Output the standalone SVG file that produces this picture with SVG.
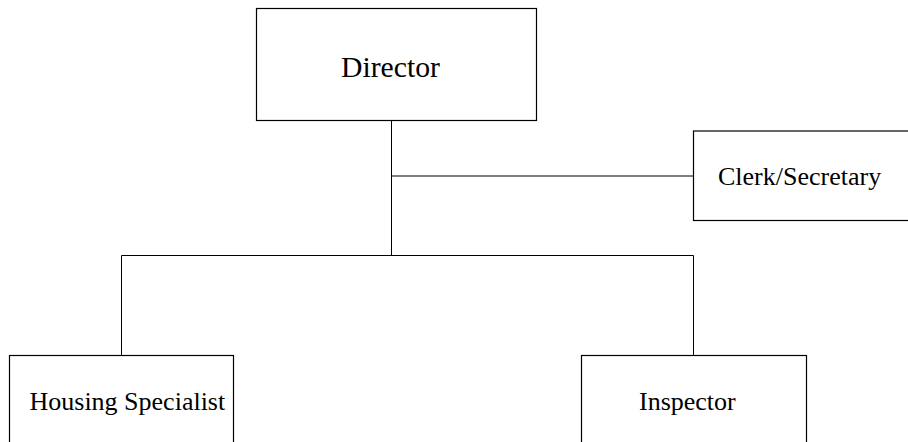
<svg xmlns="http://www.w3.org/2000/svg" width="908" height="442" viewBox="0 0 908 442">
<style>
.box{fill:#fff;stroke:#000;stroke-width:1.2}
.ln{fill:none;stroke:#000;stroke-width:1}
</style>
<rect width="908" height="442" fill="#fff"/>
<g id="connectors">
<path class="ln" d="M391.5 120.5V255.5M391.5 176H693.5M121.5 255.5H693.5M121.5 255.5V355.5M693.5 255.5V355.5"/>
</g>
<g font-family="'Liberation Serif', 'Times New Roman', Times, serif" fill="#000" font-size="26">
<g id="director">
<rect class="box" x="256.5" y="8.5" width="280" height="112"/>
<text x="341" y="77" font-size="29.7">Director</text>
</g>
<g id="clerk">
<rect class="box" x="693.5" y="131" width="220" height="89.5"/>
<text x="718" y="185">Clerk/Secretary</text>
</g>
<g id="housing">
<rect class="box" x="9.5" y="355.5" width="224" height="100"/>
<text x="29.5" y="410">Housing Specialist</text>
</g>
<g id="inspector">
<rect class="box" x="581.5" y="355.5" width="225" height="100"/>
<text x="639" y="410">Inspector</text>
</g>
</g>
</svg>
